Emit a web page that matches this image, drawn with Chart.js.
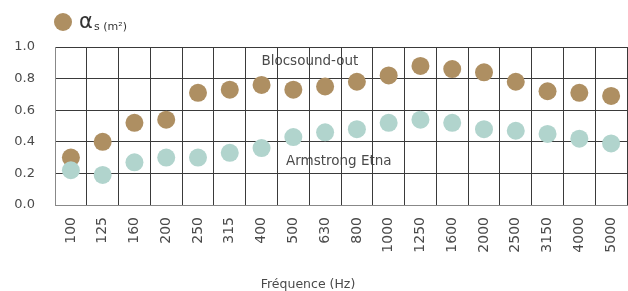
<!DOCTYPE html>
<html>
<head>
<meta charset="utf-8">
<script src="https://cdn.jsdelivr.net/npm/chart.js@4/dist/chart.umd.min.js"></script>
<style>
  html, body { margin: 0; padding: 0; background: #fff; }
  #wrap { width: 628px; height: 291px; }
</style>
</head>
<body>
<div id="wrap"><canvas id="absChart" width="628" height="291"></canvas></div>
<script>
// Fréquences (Hz)
const frequences = ['100', '125', '160', '200', '250', '315', '400', '500', '630', '800',
  '1000', '1250', '1600', '2000', '2500', '3150', '4000', '5000'];
// Blocsound-out
const blocsound = [0.30, 0.40, 0.52, 0.54, 0.71, 0.73, 0.76, 0.73, 0.75, 0.78,
  0.82, 0.88, 0.86, 0.84, 0.78, 0.72, 0.71, 0.69];
// Armstrong Etna
const armstrong = [0.22, 0.19, 0.27, 0.30, 0.30, 0.33, 0.36, 0.43, 0.46, 0.48,
  0.52, 0.54, 0.52, 0.48, 0.47, 0.45, 0.42, 0.39];
const yTicks = [0, 0.2, 0.4, 0.6, 0.8, 1.0];

const brun = '#ae8f62';
const vert = '#b1d4cd';
const police = 'DejaVu Sans';
const gris = '#4a4a4a';

// textes dans le graphique + légende, dessinés sous la grille
const decor = {
  id: 'decor',
  beforeDraw(chart) {
    const c = chart.ctx;
    const x = chart.scales.x, y = chart.scales.y;
    c.save();
    c.fillStyle = gris;
    c.font = '13.5px "' + police + '"';
    c.textAlign = 'center';
    c.textBaseline = 'middle';
    c.fillText('Blocsound-out', x.getPixelForValue(7.52), y.getPixelForValue(0.91));
    c.fillText('Armstrong Etna', x.getPixelForValue(8.43), y.getPixelForValue(0.278));
    c.restore();
  },
  afterDraw(chart) {
    const c = chart.ctx;
    c.save();
    // légende
    c.fillStyle = brun;
    c.beginPath();
    c.arc(63, 22, 9, 0, Math.PI * 2);
    c.fill();
    c.fillStyle = '#333';
    c.textBaseline = 'alphabetic';
    c.textAlign = 'left';
    c.font = '21px "' + police + '"';
    c.fillText('α', 79, 28);
    c.font = '11px "' + police + '"';
    c.fillText('s (m²)', 94, 30);
    // titre de l'axe x
    c.fillStyle = gris;
    c.font = '12.5px "' + police + '"';
    c.textAlign = 'center';
    c.fillText('Fréquence (Hz)', 308, 288);
    c.restore();
  }
};

new Chart(document.getElementById('absChart'), {
  type: 'line',
  data: {
    labels: frequences,
    datasets: [
      {
        label: 'Blocsound-out',
        data: blocsound,
        showLine: false,
        pointRadius: 9,
        pointHoverRadius: 9,
        pointBorderWidth: 0,
        pointBackgroundColor: brun,
        backgroundColor: brun,
        order: 1
      },
      {
        label: 'Armstrong Etna',
        data: armstrong,
        showLine: false,
        pointRadius: 9,
        pointHoverRadius: 9,
        pointBorderWidth: 0,
        pointBackgroundColor: vert,
        backgroundColor: vert,
        order: 0
      }
    ]
  },
  options: {
    responsive: false,
    animation: false,
    layout: { autoPadding: false, padding: { top: 47, right: 1, left: 0, bottom: 0 } },
    plugins: { legend: { display: false }, tooltip: { enabled: false } },
    scales: {
      x: {
        offset: true,
        grid: { color: '#3a3a3a', lineWidth: 1, tickLength: 12, tickColor: 'rgba(0,0,0,0)', offset: true },
        border: { color: '#888', width: 1 },
        ticks: {
          color: gris,
          font: { family: police, size: 14 },
          maxRotation: 90,
          minRotation: 90,
          padding: 0,
          autoSkip: false
        },
        afterFit(scale) { scale.height = 86; }
      },
      y: {
        min: 0,
        max: 1,
        grid: { color: '#3a3a3a', lineWidth: 1, tickLength: 0 },
        border: { color: '#888', width: 1 },
        afterBuildTicks(scale) { scale.ticks = yTicks.map(v => ({ value: v })); },
        ticks: {
          color: gris,
          font: { family: police, size: 13 },
          padding: 20,
          callback: v => Number(v).toFixed(1)
        },
        afterFit(scale) { scale.width = 55; }
      }
    }
  },
  plugins: [decor]
});
</script>
</body>
</html>
